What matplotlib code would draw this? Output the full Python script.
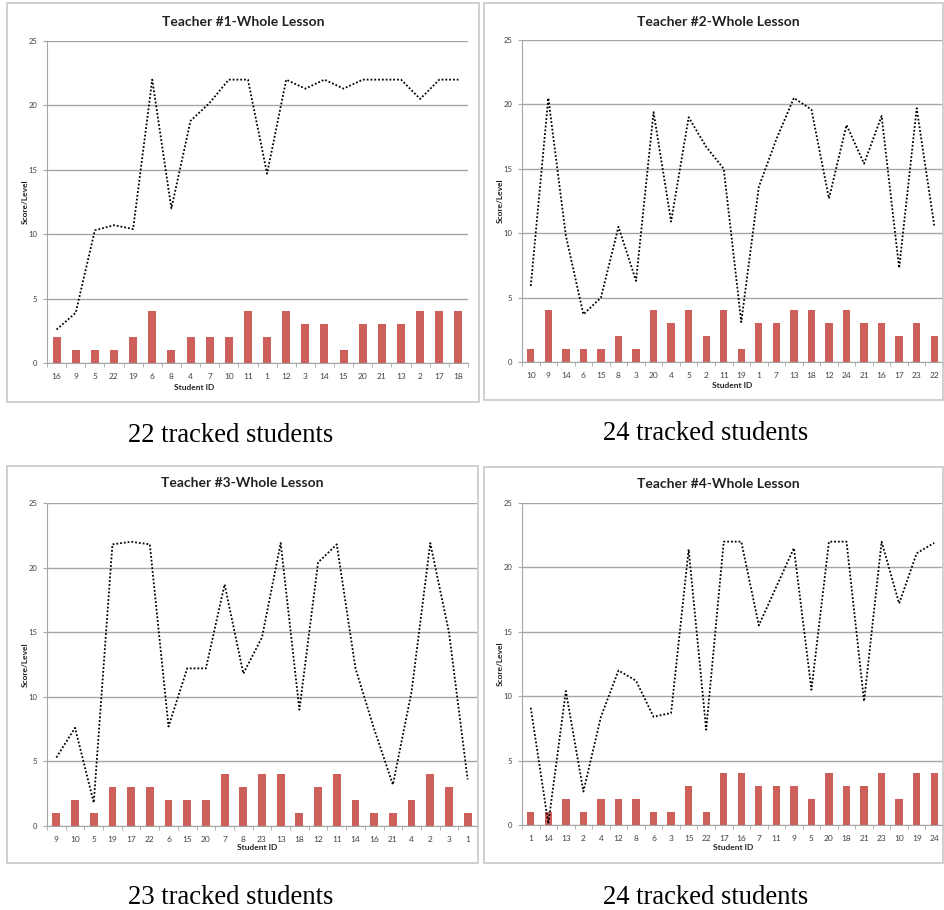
# four teacher panels: level bars + score dotted line

import numpy as np
import matplotlib
matplotlib.use('Agg')
import matplotlib.pyplot as plt
from matplotlib.patches import Rectangle

W, H = 944, 910

t1_ids = ['16', '9', '5', '22', '19', '6', '8', '4', '7', '10', '11', '1', '12', '3', '14', '15', '20', '21', '13', '2', '17', '18']
t1_level = [2, 1, 1, 1, 2, 4, 1, 2, 2, 2, 4, 2, 4, 3, 3, 1, 3, 3, 3, 4, 4, 4]
t1_score = [2.6, 3.9, 10.3, 10.7, 10.4, 22, 12, 18.8, 20.2, 22, 22, 14.7, 22, 21.3, 22, 21.3, 22, 22, 22, 20.5, 22, 22]

t2_ids = ['10', '9', '14', '6', '15', '8', '3', '20', '4', '5', '2', '11', '19', '1', '7', '13', '18', '12', '24', '21', '16', '17', '23', '22']
t2_level = [1, 4, 1, 1, 1, 2, 1, 4, 3, 4, 2, 4, 1, 3, 3, 4, 4, 3, 4, 3, 3, 2, 3, 2]
t2_score = [5.9, 20.5, 9.8, 3.7, 5.0, 10.5, 6.3, 19.4, 10.9, 19.0, 16.7, 15.0, 3.1, 13.6, 17.3, 20.5, 19.6, 12.7, 18.4, 15.4, 19.1, 7.3, 19.7, 10.6]

t3_ids = ['9', '10', '5', '19', '17', '22', '6', '15', '20', '7', '8', '23', '13', '18', '12', '11', '14', '16', '21', '4', '2', '3', '1']
t3_level = [1, 2, 1, 3, 3, 3, 2, 2, 2, 4, 3, 4, 4, 1, 3, 4, 2, 1, 1, 2, 4, 3, 1]
t3_score = [5.3, 7.6, 1.8, 21.8, 22.0, 21.8, 7.7, 12.2, 12.2, 18.7, 11.8, 14.6, 21.9, 9.0, 20.4, 21.8, 12.2, 7.5, 3.2, 10.4, 21.9, 15.0, 3.6]

t4_ids = ['1', '14', '13', '2', '4', '12', '8', '6', '3', '15', '22', '17', '16', '7', '11', '9', '5', '20', '18', '21', '23', '10', '19', '24']
t4_level = [1, 1, 2, 1, 2, 2, 2, 1, 1, 3, 1, 4, 4, 3, 3, 3, 2, 4, 3, 3, 4, 2, 4, 4]
t4_score = [9.1, 0.1, 10.4, 2.6, 8.4, 12.0, 11.2, 8.4, 8.7, 21.4, 7.4, 22, 22, 15.5, 18.5, 21.5, 10.5, 22, 22, 9.6, 22, 17.2, 21.1, 21.9]

titles = ['Teacher #1-Whole Lesson', 'Teacher #2-Whole Lesson',
          'Teacher #3-Whole Lesson', 'Teacher #4-Whole Lesson']
captions = ['22 tracked students', '24 tracked students',
            '23 tracked students', '24 tracked students']

BAR = '#CD605B'
GRID = '#A6A6A6'
TXT = '#404040'

# pixel layouts: box, axes (l, r, top, bottom), title y, label positions
panels = [
    dict(ids=t1_ids, level=t1_level, score=t1_score,
         box=(7, 3, 479, 402), ax=(47, 468, 41, 363), title_y=22, title_x=243,
         ylab_x=25, xlab=(194, 387), cap=(231, 435)),
    dict(ids=t2_ids, level=t2_level, score=t2_score,
         box=(484, 3, 943, 400), ax=(522, 943, 40, 362), title_y=22, title_x=718,
         ylab_x=500, xlab=(732, 385), cap=(706, 433)),
    dict(ids=t3_ids, level=t3_level, score=t3_score,
         box=(7, 466, 478, 863), ax=(47, 477, 503, 826), title_y=483, title_x=242,
         ylab_x=25, xlab=(257, 848), cap=(231, 897)),
    dict(ids=t4_ids, level=t4_level, score=t4_score,
         box=(484, 467, 943, 863), ax=(522, 943, 503, 825), title_y=484, title_x=718,
         ylab_x=500, xlab=(733, 848), cap=(706, 897)),
]


def fx(px):
    return px / W


def fy(py):
    return 1 - py / H


fig = plt.figure(figsize=(W / 100, H / 100), dpi=100)
fig.patch.set_facecolor('white')

for p, title, cap in zip(panels, titles, captions):
    x0, y0, x1, y1 = p['box']
    fig.patches.append(Rectangle((fx(x0), fy(y1)), fx(x1 - x0), (y1 - y0) / H,
                                 transform=fig.transFigure, fill=False,
                                 edgecolor='#C8C8C8', linewidth=1.2))
    l, r, t, b = p['ax']
    ax = fig.add_axes([fx(l), fy(b), fx(r - l), (b - t) / H])
    n = len(p['ids'])
    x = np.arange(n)
    ax.bar(x, p['level'], width=0.42, color=BAR, zorder=3)
    ax.plot(x, p['score'], color='black', linewidth=1.3,
            linestyle=(0, (1, 1.1)), zorder=4)
    ax.set_xlim(-0.5, n - 0.5)
    ax.set_ylim(0, 25)
    ax.set_yticks([0, 5, 10, 15, 20, 25])
    ax.yaxis.grid(True, color=GRID, linewidth=1.0, zorder=0)
    ax.set_axisbelow(True)
    ax.set_xticks(x)
    ax.set_xticklabels(p['ids'], fontsize=6, color=TXT, family='Lato')
    ax.set_xticks(np.arange(n + 1) - 0.5, minor=True)
    ax.tick_params(axis='x', which='major', length=0, pad=7)
    ax.tick_params(axis='x', which='minor', length=3, color=GRID)
    ax.tick_params(axis='y', length=3, color=GRID, labelsize=5.5,
                   labelcolor=TXT, pad=4)
    for lbl in ax.get_yticklabels():
        lbl.set_family('Lato')
    for s in ['top', 'right']:
        ax.spines[s].set_visible(False)
    ax.spines['left'].set_color(GRID)
    ax.spines['bottom'].set_color(GRID)
    ax.spines['bottom'].set_zorder(5)

    fig.text(fx(p['title_x']), fy(p['title_y']), title, ha='center', va='center',
             fontsize=10, fontweight='bold', family='Lato', color='#222222')
    fig.text(fx(p['ylab_x']), fy((t + b) / 2), 'Score/Level', rotation=90,
             ha='center', va='center', fontsize=6, fontweight='bold',
             family='Lato', color='#222222')
    fig.text(fx(p['xlab'][0]), fy(p['xlab'][1]), 'Student ID', ha='center',
             va='center', fontsize=6, fontweight='bold', family='Lato',
             color='#222222')
    fig.text(fx(p['cap'][0]), fy(p['cap'][1]), cap, ha='center', va='center',
             fontsize=19.2, family='Liberation Serif', color='black')

fig.savefig('out.png', dpi=100)
